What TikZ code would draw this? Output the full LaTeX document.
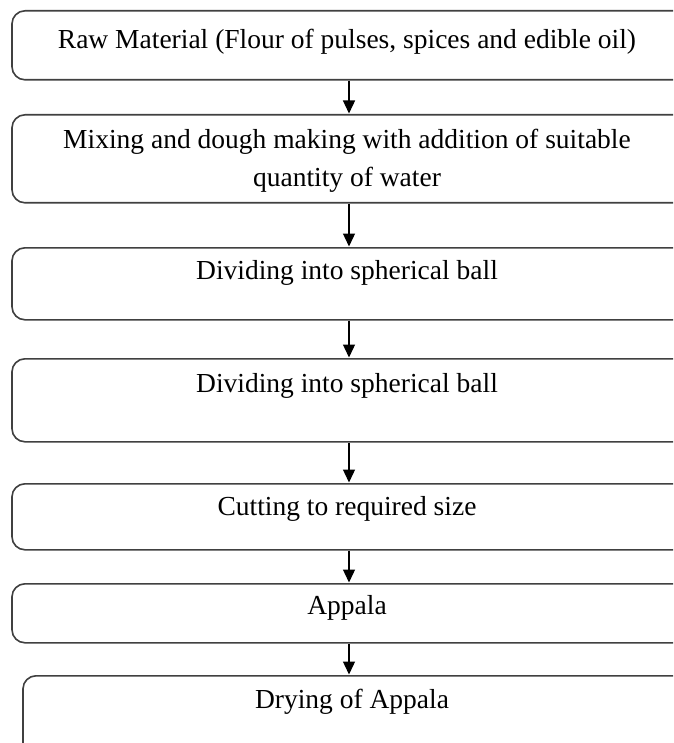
\documentclass[tikz,border=0pt]{standalone}
\usepackage{fontspec}
\setmainfont{Liberation Serif}
\usetikzlibrary{arrows.meta}
\begin{document}
\begin{tikzpicture}[x=1pt,y=-1pt,
  box/.style={draw=black!75, line width=1.6pt, rounded corners=13pt, minimum width=674pt, inner sep=0pt, anchor=north},
  lbl/.style={font=\fontsize{27.5}{38}\selectfont, align=center, inner sep=0pt, text=black},
  arr/.style={draw=black, line width=1.3pt, -{Triangle[length=13pt,width=12pt]}, shorten >=0.5pt}]
\useasboundingbox (0,0) rectangle (673,743);
\clip (0,0) rectangle (673,743);
\fill[white] (0,0) rectangle (673,743);
\node[box, minimum height=69pt] (b1) at (349,10) {};
\node[box, minimum height=88pt] (b2) at (349,114) {};
\node[box, minimum height=72pt] (b3) at (349,247) {};
\node[box, minimum height=83pt] (b4) at (349,358) {};
\node[box, minimum height=66pt] (b5) at (349,483) {};
\node[box, minimum height=59pt] (b6) at (349,583) {};
\node[box, minimum height=90pt, minimum width=674pt] (b7) at (360,675) {};
\node[lbl] (t1) at (347,42) {Raw Material (Flour of pulses, spices and edible oil)};
\node[lbl] (t2) at (347,161) {Mixing and dough making with addition of suitable\\quantity of water};
\node[lbl] (t3) at (347,273) {Dividing into spherical ball};
\node[lbl] (t4) at (347,386) {Dividing into spherical ball};
\node[lbl] (t5) at (347,509) {Cutting to required size};
\node[lbl] (t6) at (347,608) {Appala};
\node[lbl] (t7) at (352,702) {Drying of Appala};
\draw[arr] (b1.south) -- (b2.north);
\draw[arr] (b2.south) -- (b3.north);
\draw[arr] (b3.south) -- (b4.north);
\draw[arr] (b4.south) -- (b5.north);
\draw[arr] (b5.south) -- (b6.north);
\draw[arr] (b6.south) -- (b6.south |- b7.north);
\end{tikzpicture}
\end{document}
